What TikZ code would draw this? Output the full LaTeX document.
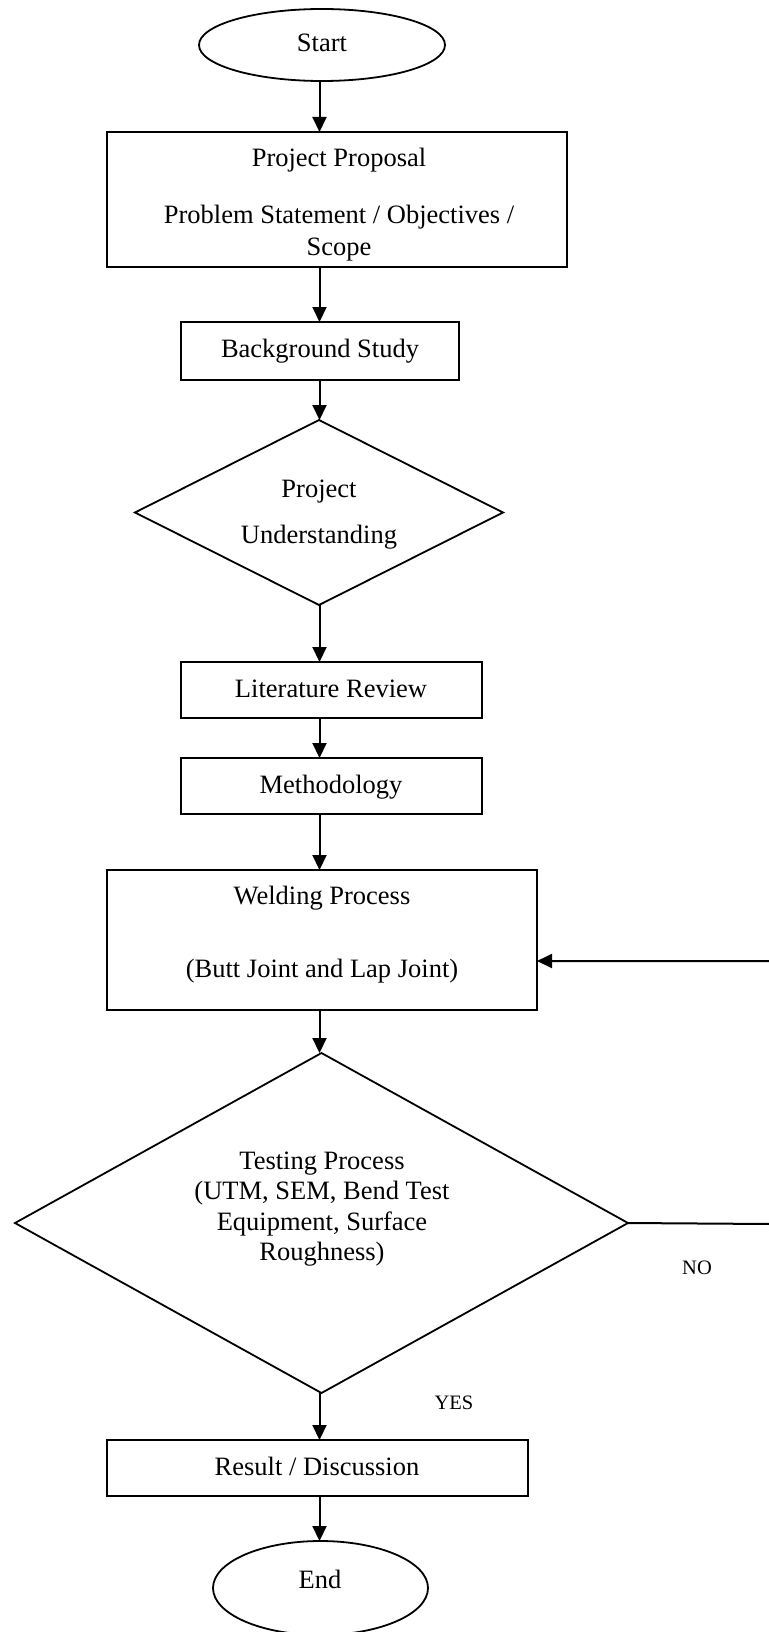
\documentclass[tikz,border=0pt]{standalone}
\usepackage{fontspec}
\setmainfont{Liberation Serif}
\usetikzlibrary{shapes.geometric,arrows.meta}
\begin{document}
\begin{tikzpicture}[x=1pt,y=-1pt,
  shapeline/.style={draw=black,line width=1.8pt,inner sep=0pt,outer sep=0pt},
  boxnode/.style={shapeline,rectangle},
  ovalnode/.style={shapeline,ellipse},
  decnode/.style={shapeline,diamond},
  txt/.style={anchor=base,inner sep=0pt,font=\fontsize{26.5}{30}\selectfont},
  smalltxt/.style={anchor=base,inner sep=0pt,font=\fontsize{20.5}{24}\selectfont},
  arr/.style={line width=2pt,-{Triangle[length=15pt,width=14pt]}},
  plainline/.style={line width=2pt}]
\useasboundingbox (0,0) rectangle (768,1632);
\coordinate (axis) at (319.5,0);
% shapes
\node[ovalnode,minimum width=246pt,minimum height=72pt] (start) at (322,45) {};
\node[boxnode,minimum width=460pt,minimum height=135pt] (pp) at (337,199.5) {};
\node[boxnode,minimum width=278pt,minimum height=58pt] (bs) at (320,351) {};
\node[decnode,minimum width=368pt,minimum height=185pt] (pu) at (319,512.5) {};
\node[boxnode,minimum width=301pt,minimum height=56pt] (lr) at (331.5,690) {};
\node[boxnode,minimum width=301pt,minimum height=56pt] (meth) at (331.5,786) {};
\node[boxnode,minimum width=430pt,minimum height=140pt] (wp) at (322,940) {};
\node[decnode,minimum width=613pt,minimum height=340pt] (test) at (321.5,1223) {};
\node[boxnode,minimum width=421pt,minimum height=56pt] (rd) at (317.5,1468) {};
\node[ovalnode,minimum width=215pt,minimum height=94pt] (end) at (320.5,1588) {};
% texts
\node[txt] (startt) at (322,52) {Start};
\node[txt] (ppt1) at (339,167) {Project Proposal};
\node[txt] (ppt2) at (339,223) {Problem Statement / Objectives /};
\node[txt] (ppt3) at (339,255) {Scope};
\node[txt] (bst) at (320,357) {Background Study};
\node[txt] (put1) at (319,497) {Project};
\node[txt] (put2) at (319,543) {Understanding};
\node[txt] (lrt) at (331,697) {Literature Review};
\node[txt] (metht) at (331,793) {Methodology};
\node[txt] (wpt1) at (322,904) {Welding Process};
\node[txt] (wpt2) at (322,977) {(Butt Joint and Lap Joint)};
\node[txt] (testt1) at (322,1169) {Testing Process};
\node[txt] (testt2) at (322,1199) {(UTM, SEM, Bend Test};
\node[txt] (testt3) at (322,1230) {Equipment, Surface};
\node[txt] (testt4) at (322,1260) {Roughness)};
\node[smalltxt] (no) at (697,1274) {NO};
\node[smalltxt] (yes) at (454,1409) {YES};
\node[txt] (rdt) at (317,1475) {Result / Discussion};
\node[txt] (endt) at (320,1588) {End};
% connectors
\draw[arr] (axis |- start.south) -- (axis |- pp.north);
\draw[arr] (axis |- pp.south) -- (axis |- bs.north);
\draw[arr] (axis |- bs.south) -- (axis |- pu.north);
\draw[arr] (axis |- pu.south) -- (axis |- lr.north);
\draw[arr] (axis |- lr.south) -- (axis |- meth.north);
\draw[arr] (axis |- meth.south) -- (axis |- wp.north);
\draw[arr] (axis |- wp.south) -- (axis |- test.north);
\draw[arr] (axis |- test.south) -- (axis |- rd.north);
\draw[arr] (axis |- rd.south) -- (axis |- end.north);
\coordinate (c1) at (771,1224);
\coordinate (c2) at (771,961);
\draw[arr] (test.east) -- (c1) -- (c2) -- (wp.east |- c2);
\end{tikzpicture}
\end{document}
